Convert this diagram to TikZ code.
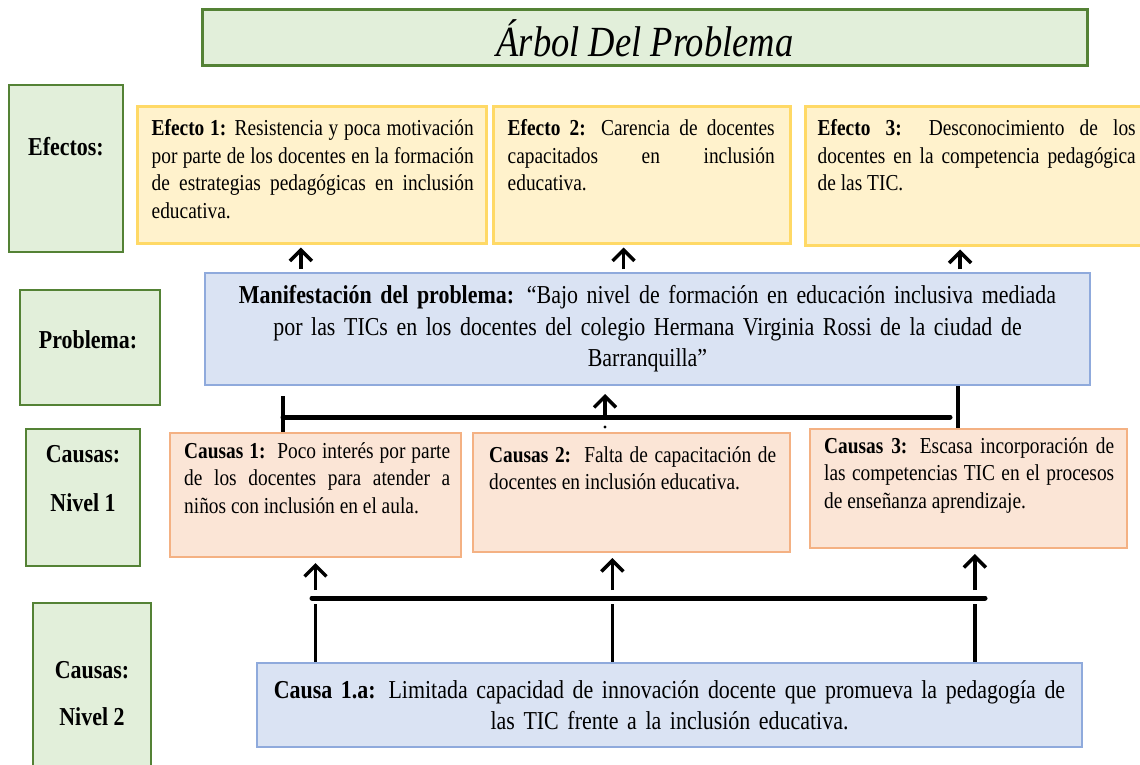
\documentclass[tikz,border=0pt]{standalone}
\usepackage{fontspec}
\setmainfont{Liberation Serif}[FakeStretch=0.85]
\usepackage{tikz}
\usetikzlibrary{calc,arrows.meta}

\definecolor{verdeF}{HTML}{E2EFDA}
\definecolor{verdeB}{HTML}{548235}
\definecolor{amarilloF}{HTML}{FFF2CC}
\definecolor{amarilloB}{HTML}{FFD966}
\definecolor{azulF}{HTML}{DAE3F3}
\definecolor{azulB}{HTML}{8FAADC}
\definecolor{naranjaF}{HTML}{FBE5D6}
\definecolor{naranjaB}{HTML}{F4B183}

\newcommand{\letrachica}{\fontsize{22.8}{27.5}\selectfont}
\newcommand{\letragrande}{\fontsize{25.8}{31.5}\selectfont}
\tolerance=9999
\hbadness=10000
\hyphenpenalty=10000

\begin{document}
\begin{tikzpicture}[x=1pt, y=-1pt,
    caja/.style={draw, line width=2.5pt, inner sep=0pt},
    etiqueta/.style={caja, draw=verdeB, fill=verdeF},
    efecto/.style={caja, line width=3pt, draw=amarilloB, fill=amarilloF},
    causa/.style={caja, line width=2pt, draw=naranjaB, fill=naranjaF},
    azul/.style={caja, line width=2pt, draw=azulB, fill=azulF},
    texto/.style={anchor=north west, inner sep=0pt, align=justify, font=\letrachica},
    rotulo/.style={inner sep=0pt, align=center, font=\letragrande\bfseries},
    >={Straight Barb[length=11pt, width=22pt]},
    flecha/.style={->, line width=3.5pt},
    linea/.style={line width=3.5pt},
    barra/.style={line width=5pt, line cap=round}]
\useasboundingbox (0,0) rectangle (1140,765);

\node [etiqueta, line width=3pt, minimum width=885pt, minimum height=56pt, font={\fontsize{43}{45}\selectfont\itshape}] (titulo) at (645,38) {Árbol Del Problema};

\node [etiqueta, minimum width=114pt, minimum height=167pt] (efectos) at (66,168.5) {};
\node [rotulo] (tefectos) at ($(efectos.north)+(0,63)$) {Efectos:};

\node [efecto, minimum width=349pt, minimum height=136pt] (e1) at (311.5,175) {};
\node [efecto, minimum width=297pt, minimum height=136pt] (e2) at (641.5,175) {};
\node [efecto, minimum width=345pt, minimum height=138pt] (e3) at (977.5,176) {};
\node [texto, text width=322pt] (te1) at ($(e1.north west)+(16,14)$) {\textbf{Efecto 1:} Resistencia y poca motivación\linebreak por parte de los docentes en la formación\linebreak de estrategias pedagógicas en inclusión\linebreak educativa.};
\node [texto, text width=267pt] (te2) at ($(e2.north west)+(16,14)$) {\textbf{Efecto 2:} Carencia de docentes\linebreak capacitados en inclusión\linebreak educativa.};
\node [texto, text width=318pt] (te3) at ($(e3.north west)+(14,14)$) {\textbf{Efecto 3:} Desconocimiento de los\linebreak docentes en la competencia pedagógica\linebreak de las TIC.};

\node [etiqueta, minimum width=140pt, minimum height=115pt] (lprob) at (90,347.5) {};
\node [rotulo] (tlprob) at ($(lprob)+(-2,-8)$) {Problema:};
\node [azul, minimum width=885pt, minimum height=112pt, text width=870pt, align=center, font=\letragrande] (prob) at (647.5,329) {\textbf{Manifestación del problema:} “Bajo nivel de formación en educación inclusiva mediada\\ por las TICs en los docentes del colegio Hermana Virginia Rossi de la ciudad de\\ Barranquilla”};

\node [etiqueta, minimum width=114pt, minimum height=137pt] (lcn1) at (83,497.5) {};
\node [rotulo] (tlcn1) at ($(lcn1)+(0,-19)$) {Causas:\\[17pt]Nivel 1};
\node [causa, minimum width=291pt, minimum height=124pt] (c1) at (315.5,495) {};
\node [causa, minimum width=317pt, minimum height=119pt] (c2) at (631.5,492.5) {};
\node [causa, minimum width=317pt, minimum height=119pt] (c3) at (968.5,488.5) {};
\node [texto, text width=266pt] (tc1) at ($(c1.north west)+(15,10)$) {\textbf{Causas 1:}\ \ Poco interés por parte\linebreak de los docentes para atender a\linebreak niños con inclusión en el aula.};
\node [texto, text width=287pt] (tc2) at ($(c2.north west)+(17,14)$) {\textbf{Causas 2:}\ \ Falta de capacitación de\linebreak docentes en inclusión educativa.};
\node [texto, text width=290pt] (tc3) at ($(c3.north west)+(15,9)$) {\textbf{Causas 3:} Escasa incorporación de\linebreak las competencias TIC en el procesos\linebreak de enseñanza aprendizaje.};

\node [etiqueta, minimum width=118pt, minimum height=172pt] (lcn2) at (92,689) {};
\node [rotulo] (tlcn2) at ($(lcn2.north)+(0,92)$) {Causas:\\[15pt]Nivel 2};
\node [azul, minimum width=825pt, minimum height=84pt, text width=815pt, align=center, font=\letragrande] (c1a) at (669.5,705) {\textbf{Causa 1.a:} Limitada capacidad de innovación docente que promueva la pedagogía de\\ las TIC frente a la inclusión educativa.};

\foreach \n/\f in {e1/0.47, e2/0.44, e3/0.45} {
    \coordinate (k\n) at ($(\n.south west)!\f!(\n.south east)$);
    \draw [flecha, shorten <=3pt, shorten >=3pt] (k\n |- prob.north) -- (k\n);
}

\coordinate (izq) at ($(c1.north west)+(114,0)$);
\coordinate (der) at ($(c3.north west)+(149,0)$);
\coordinate (barraI) at ($(izq)+(0,-15)$);
\coordinate (barraD) at ($(der |- barraI)+(-8,0)$);
\coordinate (medio) at ($(barraI)+(322,0)$);
\draw [linea] (izq) -- ++(0,-36);
\draw [linea] (der |- prob.south) -- (der);
\draw [barra] (barraI) -- (barraD);
\draw [flecha, shorten <=2pt, shorten >=8pt] (medio) -- (medio |- prob.south);
\fill (medio) ++(0,10) circle (1.6pt);

\coordinate (bajoI) at ($(c1a.north west)+(56,-64)$);
\coordinate (bajoD) at ($(c1a.north east)+(-98,-64)$);
\draw [barra] (bajoI) -- (bajoD);
\foreach \n/\f in {c1/0.5, c2/0.44, c3/0.52} {
    \coordinate (k\n) at ($(\n.south west)!\f!(\n.south east)$);
    \draw [flecha, shorten <=8pt, shorten >=5pt] (k\n |- bajoI) -- (k\n);
    \draw [linea, shorten <=6pt] (k\n |- bajoI) -- (k\n |- c1a.north);
}
\end{tikzpicture}
\end{document}
